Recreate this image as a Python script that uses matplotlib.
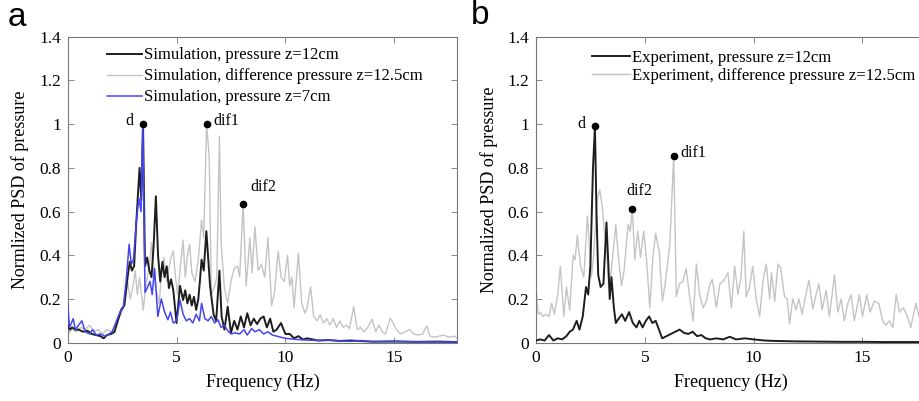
import matplotlib
matplotlib.use('Agg')
import matplotlib.pyplot as plt

# ---- panel a: simulation ----
sim12_f = [0.0, 0.1, 0.2, 0.35, 0.5, 0.7, 0.9, 1.1, 1.3, 1.5, 1.65, 1.8, 2.0, 2.15, 2.3, 2.45, 2.6, 2.75,
           2.85, 2.95, 3.05, 3.15, 3.3, 3.38, 3.46, 3.55, 3.65, 3.75, 3.85, 3.95, 4.05, 4.15, 4.25, 4.35,
           4.45, 4.55, 4.65, 4.75, 4.85, 5.0, 5.16, 5.3, 5.4, 5.5, 5.6, 5.7, 5.8, 5.9, 6.0, 6.08, 6.15,
           6.25, 6.37, 6.54, 6.7, 6.82, 6.97, 7.07, 7.2, 7.35, 7.5, 7.65, 7.8, 7.95, 8.1, 8.25, 8.4, 8.55,
           8.7, 8.85, 9.0, 9.15, 9.3, 9.45, 9.6, 9.8, 10.0, 10.2, 10.4, 10.6, 10.8, 11.0, 11.5, 12.0, 12.5,
           13.0, 14.0, 15.0, 16.0, 17.0, 17.9]
sim12_v = [0.08, 0.06, 0.07, 0.06, 0.06, 0.05, 0.055, 0.04, 0.035, 0.03, 0.02, 0.035, 0.04, 0.05, 0.10,
           0.15, 0.17, 0.30, 0.37, 0.33, 0.35, 0.55, 0.80, 0.65, 1.0, 0.35, 0.39, 0.33, 0.30, 0.45, 0.67,
           0.40, 0.28, 0.37, 0.30, 0.35, 0.25, 0.29, 0.24, 0.09, 0.26, 0.195, 0.24, 0.18, 0.22, 0.17, 0.21,
           0.15, 0.20, 0.29, 0.38, 0.33, 0.51, 0.26, 0.13, 0.10, 0.33, 0.12, 0.06, 0.165, 0.045, 0.10,
           0.06, 0.12, 0.07, 0.135, 0.08, 0.11, 0.085, 0.11, 0.12, 0.07, 0.11, 0.05, 0.06, 0.09, 0.04,
           0.04, 0.02, 0.03, 0.015, 0.02, 0.01, 0.012, 0.008, 0.01, 0.005, 0.006, 0.004, 0.005, 0.003]

simdif_f = [0.0, 0.2, 0.4, 0.6, 0.8, 1.0, 1.2, 1.4, 1.6, 1.8, 2.0, 2.2, 2.4, 2.6, 2.75, 2.87, 3.0, 3.1, 3.2,
            3.3, 3.47, 3.6, 3.75, 3.85, 3.95, 4.05, 4.2, 4.3, 4.42, 4.55, 4.72, 4.85, 4.95, 5.05, 5.15,
            5.3, 5.4, 5.5, 5.6, 5.7, 5.85, 6.0, 6.15, 6.25, 6.38, 6.5, 6.6, 6.75, 6.85, 6.97, 7.05, 7.2,
            7.35, 7.5, 7.65, 7.8, 7.9, 8.06, 8.2, 8.37, 8.47, 8.6, 8.75, 8.9, 9.05, 9.2, 9.37, 9.5, 9.67,
            9.8, 9.95, 10.1, 10.2, 10.3, 10.4, 10.6, 10.75, 10.9, 11.0, 11.16, 11.3, 11.45, 11.6, 11.75,
            11.9, 12.05, 12.2, 12.35, 12.5, 12.65, 12.8, 12.95, 13.14, 13.3, 13.45, 13.6, 13.75, 13.99,
            14.15, 14.3, 14.45, 14.6, 14.82, 14.95, 15.1, 15.3, 15.5, 15.7, 15.9, 16.1, 16.3, 16.5,
            16.65, 16.85, 17.05, 17.3, 17.5, 17.75, 17.9]
simdif_v = [0.04, 0.06, 0.05, 0.07, 0.06, 0.08, 0.05, 0.06, 0.04, 0.06, 0.05, 0.08, 0.12, 0.17, 0.28,
            0.20, 0.26, 0.33, 0.22, 0.30, 0.15, 0.27, 0.35, 0.46, 0.30, 0.25, 0.18, 0.30, 0.39, 0.28,
            0.38, 0.42, 0.30, 0.22, 0.32, 0.47, 0.30, 0.40, 0.45, 0.32, 0.28, 0.38, 0.56, 0.48, 1.0, 0.85,
            0.22, 0.26, 0.30, 0.945, 0.45, 0.25, 0.18, 0.28, 0.34, 0.35, 0.30, 0.635, 0.26, 0.48, 0.32,
            0.53, 0.33, 0.36, 0.30, 0.48, 0.17, 0.23, 0.42, 0.30, 0.28, 0.40, 0.26, 0.30, 0.16, 0.41, 0.18,
            0.135, 0.16, 0.255, 0.12, 0.10, 0.127, 0.09, 0.11, 0.08, 0.11, 0.07, 0.10, 0.07, 0.08, 0.065,
            0.165, 0.06, 0.07, 0.05, 0.065, 0.107, 0.05, 0.08, 0.05, 0.04, 0.112, 0.09, 0.06, 0.04, 0.05,
            0.06, 0.04, 0.035, 0.04, 0.077, 0.03, 0.025, 0.03, 0.035, 0.025, 0.03, 0.02]

sim7_f = [0.0, 0.08, 0.25, 0.35, 0.5, 0.65, 0.8, 1.0, 1.15, 1.3, 1.5, 1.7, 1.9, 2.05, 2.2, 2.4, 2.55, 2.7,
          2.82, 2.92, 3.02, 3.15, 3.27, 3.37, 3.45, 3.55, 3.65, 3.78, 3.88, 3.99, 4.14, 4.3, 4.45, 4.6,
          4.72, 4.85, 5.0, 5.16, 5.3, 5.45, 5.6, 5.75, 5.9, 6.05, 6.15, 6.3, 6.45, 6.6, 6.75, 6.9, 7.05,
          7.2, 7.35, 7.5, 7.7, 7.9, 8.1, 8.25, 8.45, 8.6, 8.8, 9.0, 9.2, 9.4, 9.6, 9.8, 10.0, 10.5, 11.0,
          11.5, 12.0, 12.5, 13.0, 13.5, 14.0, 15.0, 16.0, 17.0, 17.9]
sim7_v = [0.18, 0.07, 0.11, 0.06, 0.08, 0.10, 0.05, 0.04, 0.06, 0.035, 0.04, 0.03, 0.04, 0.05, 0.09, 0.14,
          0.16, 0.30, 0.45, 0.36, 0.38, 0.55, 0.66, 0.60, 1.0, 0.23, 0.25, 0.28, 0.22, 0.34, 0.12, 0.20,
          0.14, 0.105, 0.14, 0.09, 0.10, 0.195, 0.13, 0.10, 0.11, 0.09, 0.13, 0.10, 0.18, 0.11, 0.10,
          0.12, 0.09, 0.105, 0.07, 0.08, 0.055, 0.04, 0.045, 0.04, 0.06, 0.035, 0.065, 0.05, 0.06, 0.04,
          0.05, 0.035, 0.03, 0.025, 0.02, 0.015, 0.012, 0.01, 0.012, 0.008, 0.006, 0.01, 0.004, 0.005,
          0.004, 0.003, 0.003]

# ---- panel b: experiment ----
exp12_f = [0.0, 0.2, 0.4, 0.6, 0.8, 1.0, 1.2, 1.4, 1.55, 1.7, 1.87, 2.0, 2.15, 2.3, 2.4, 2.5, 2.62, 2.71,
           2.78, 2.86, 2.97, 3.1, 3.24, 3.33, 3.39, 3.47, 3.58, 3.67, 3.8, 3.95, 4.1, 4.28, 4.45, 4.62,
           4.75, 4.9, 5.05, 5.2, 5.35, 5.5, 5.65, 5.8, 6.0, 6.2, 6.4, 6.6, 6.8, 7.0, 7.2, 7.4, 7.6, 7.8,
           8.0, 8.3, 8.6, 8.9, 9.2, 9.6, 10.0, 10.5, 11.0, 12.0, 13.0, 14.0, 15.0, 16.0, 17.0, 17.9]
exp12_v = [0.01, 0.015, 0.01, 0.035, 0.01, 0.02, 0.015, 0.03, 0.05, 0.06, 0.10, 0.06, 0.12, 0.255, 0.22,
           0.35, 0.80, 0.99, 0.60, 0.31, 0.255, 0.27, 0.55, 0.35, 0.20, 0.30, 0.16, 0.09, 0.11, 0.13,
           0.10, 0.14, 0.09, 0.07, 0.10, 0.07, 0.10, 0.12, 0.09, 0.10, 0.06, 0.02, 0.03, 0.04, 0.05, 0.06,
           0.045, 0.04, 0.05, 0.03, 0.035, 0.02, 0.015, 0.02, 0.015, 0.027, 0.015, 0.02, 0.015, 0.01,
           0.008, 0.006, 0.005, 0.004, 0.004, 0.003, 0.003, 0.003]

expdif_f = [0.0, 0.1, 0.2, 0.3, 0.45, 0.6, 0.72, 0.85, 1.0, 1.12, 1.28, 1.4, 1.55, 1.71, 1.8, 1.9, 2.05,
            2.2, 2.36, 2.45, 2.55, 2.65, 2.8, 2.93, 3.05, 3.15, 3.24, 3.35, 3.45, 3.55, 3.67, 3.78, 3.93,
            4.05, 4.15, 4.24, 4.33, 4.43, 4.54, 4.68, 4.8, 4.95, 5.08, 5.23, 5.38, 5.5, 5.66, 5.81, 5.96,
            6.15, 6.33, 6.45, 6.6, 6.75, 6.9, 7.05, 7.22, 7.37, 7.52, 7.68, 7.83, 7.97, 8.1, 8.29, 8.45,
            8.6, 8.82, 8.98, 9.13, 9.28, 9.42, 9.55, 9.66, 9.8, 9.96, 10.12, 10.28, 10.43, 10.58, 10.74,
            10.82, 10.97, 11.12, 11.25, 11.42, 11.55, 11.65, 11.8, 11.95, 12.08, 12.23, 12.38, 12.54,
            12.72, 12.87, 13.0, 13.15, 13.33, 13.48, 13.72, 13.87, 14.02, 14.17, 14.33, 14.48, 14.63,
            14.86, 15.0, 15.2, 15.35, 15.55, 15.75, 15.93, 16.08, 16.23, 16.4, 16.55, 16.7, 16.88, 17.07,
            17.22, 17.46, 17.6, 17.9]
expdif_v = [0.26, 0.13, 0.14, 0.12, 0.13, 0.12, 0.18, 0.13, 0.22, 0.35, 0.12, 0.255, 0.15, 0.40, 0.38,
            0.49, 0.35, 0.30, 0.58, 0.45, 0.30, 0.40, 0.65, 0.70, 0.62, 0.50, 0.44, 0.25, 0.32, 0.42,
            0.54, 0.40, 0.26, 0.33, 0.45, 0.54, 0.51, 0.612, 0.38, 0.51, 0.39, 0.51, 0.38, 0.16, 0.40,
            0.50, 0.42, 0.19, 0.285, 0.45, 0.856, 0.21, 0.27, 0.28, 0.34, 0.22, 0.10, 0.36, 0.22, 0.16,
            0.19, 0.26, 0.29, 0.16, 0.27, 0.28, 0.32, 0.16, 0.35, 0.22, 0.30, 0.51, 0.21, 0.25, 0.35,
            0.20, 0.12, 0.28, 0.36, 0.20, 0.32, 0.19, 0.36, 0.34, 0.21, 0.20, 0.087, 0.20, 0.15, 0.20,
            0.13, 0.21, 0.285, 0.155, 0.22, 0.27, 0.15, 0.24, 0.12, 0.31, 0.14, 0.20, 0.10, 0.18, 0.22,
            0.10, 0.22, 0.12, 0.22, 0.14, 0.19, 0.18, 0.10, 0.08, 0.10, 0.07, 0.22, 0.14, 0.16, 0.12,
            0.07, 0.18, 0.12, 0.10]

# marked peaks: (freq, value, label)
peaks_a = [(3.45, 1.0, 'd'), (6.38, 1.0, 'dif1'), (8.06, 0.635, 'dif2')]
peaks_b = [(2.71, 0.99, 'd'), (6.33, 0.856, 'dif1'), (4.43, 0.612, 'dif2')]

yticks = [0, 0.2, 0.4, 0.6, 0.8, 1, 1.2, 1.4]
ytick_labels = ['0', '0.2', '0.4', '0.6', '0.8', '1', '1.2', '1.4']
xticks = [0, 5, 10, 15]

SERIF = 'Liberation Serif'
BLACK = '#1e1e1e'
GREY = '#c4c4c4'
BLUE = '#4545f0'


def style_axes(ax, ylabel):
    ax.set_xlim(0, 17.9)
    ax.set_ylim(0, 1.4)
    ax.set_xticks(xticks)
    ax.set_xticklabels([str(t) for t in xticks])
    ax.set_yticks(yticks)
    ax.set_yticklabels(ytick_labels)
    ax.tick_params(direction='in', top=True, right=True, length=4, width=0.6,
                   color='#777777', labelsize=12.5, pad=5)
    for lab in ax.get_xticklabels() + ax.get_yticklabels():
        lab.set_fontfamily(SERIF)
    for sp in ax.spines.values():
        sp.set_color('#777777')
        sp.set_linewidth(0.8)
    ax.set_xlabel('Frequency (Hz)', fontfamily=SERIF, fontsize=13, labelpad=6)
    ax.set_ylabel(ylabel, fontfamily=SERIF, fontsize=13, labelpad=7)


def mark_peaks(ax, peaks, offsets):
    for (f, v, name), (dx, dy, ha) in zip(peaks, offsets):
        ax.plot(f, v, 'o', color='black', markersize=4.5, zorder=5)
        ax.annotate(name, (f, v), xytext=(dx, dy), textcoords='offset points',
                    ha=ha, va='center', fontfamily=SERIF, fontsize=11.5)


def main():
    fig = plt.figure(figsize=(9.19, 4.01), dpi=100)

    # panel a
    ax1 = fig.add_axes([0.0737, 0.1454, 0.4239, 0.7631])
    ax1.plot(simdif_f, simdif_v, color=GREY, lw=1.0, label='Simulation, difference pressure z=12.5cm', zorder=2)
    ax1.plot(sim12_f, sim12_v, color=BLACK, lw=1.4, label='Simulation, pressure z=12cm', zorder=3)
    ax1.plot(sim7_f, sim7_v, color=BLUE, lw=1.1, label='Simulation, pressure z=7cm', zorder=4)
    style_axes(ax1, 'Normlized PSD of pressure')
    h, l = ax1.get_legend_handles_labels()
    order = [1, 0, 2]
    ax1.legend([h[i] for i in order], [l[i] for i in order], loc='upper left',
               bbox_to_anchor=(0.1, 0.965), frameon=False, borderpad=0, borderaxespad=0,
               handlelength=2.1, handletextpad=0.12, labelspacing=0.3,
               prop={'family': SERIF, 'size': 12})
    mark_peaks(ax1, peaks_a, [(-7, 2, 'right'), (5, 2, 'left'), (5, 12, 'left')])
    fig.text(0.008, 0.995, 'a', fontfamily='Liberation Sans', fontsize=24, va='top')

    # panel b (cropped on the right like the original)
    ax2 = fig.add_axes([0.5832, 0.1454, 0.4239, 0.7631])
    ax2.plot(expdif_f, expdif_v, color=GREY, lw=1.0, label='Experiment, difference pressure z=12.5cm', zorder=2)
    ax2.plot(exp12_f, exp12_v, color=BLACK, lw=1.4, label='Experiment, pressure z=12cm', zorder=3)
    style_axes(ax2, 'Normalized PSD of pressure')
    h, l = ax2.get_legend_handles_labels()
    ax2.legend([h[1], h[0]], [l[1], l[0]], loc='upper left',
               bbox_to_anchor=(0.145, 0.958), frameon=False, borderpad=0, borderaxespad=0,
               handlelength=2.25, handletextpad=0.12, labelspacing=0.15,
               prop={'family': SERIF, 'size': 12})
    mark_peaks(ax2, peaks_b, [(-7, 2, 'right'), (5, 2, 'left'), (-4, 13, 'left')])
    fig.text(0.512, 1.0, 'b', fontfamily='Liberation Sans', fontsize=24, va='top')

    fig.savefig('out.png', dpi=100)


if __name__ == "__main__":
    main()
